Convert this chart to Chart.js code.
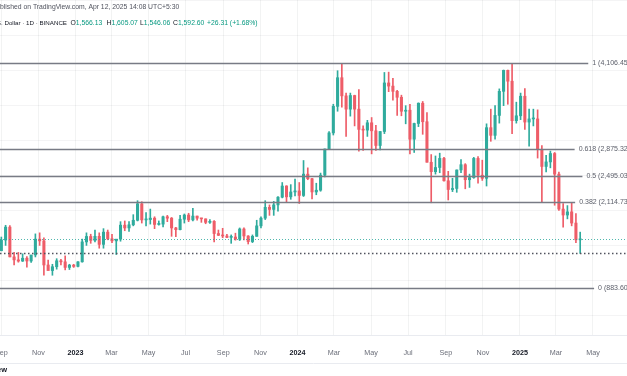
<!DOCTYPE html>
<html>
<head>
<meta charset="utf-8">
<script src="https://cdn.jsdelivr.net/npm/chart.js@4.4.1/dist/chart.umd.min.js"></script>
<style>
  html, body { margin: 0; padding: 0; background: #fff; }
  #wrap { width: 627px; height: 376px; position: relative; }
</style>
</head>
<body>
<div id="wrap"><canvas id="myChart"></canvas></div>
<script>
// weekly candles, first week = Mon 29 Aug 2022 (day -125 counted from 1 Jan 2023)
const firstWeekDay = -125;

const opens = [
  1424,1577,1762,1336,1293,1276,1317,1277,1364,1590,1565,1220,1140,1195,1280,1265,1185,1218,
  1200,1265,1550,1628,1572,1630,1515,1690,1595,1565,1590,1790,1750,1795,1860,2095,1865,1870,1890,1800,1805,1910,1890,1750,1725,1875,1935,1865,1920,1890,1880,1830,1845,1670,1645,1635,1615,1620,1590,1735,1635,1555,1630,1780,1890,2045,2015,2080,2190,2350,2195,2265,
  2280,2215,2520,2455,2265,2290,2505,2880,3110,3490,3900,3640,3450,3645,3450,3160,3150,3255,3140,2930,3130,3825,3780,3705,3620,3420,3435,3020,3245,3535,3270,2690,2555,2615,2745,2425,2300,2315,2580,2655,2440,2470,2745,2505,2460,3185,3075,3360,3705,4005,3850,3285,3355,
  3635,3265,3310,3310,2870,2630,2695,2815,2520,2020,1935,1980,1820,1580
];
const highs = [
  1620,1788,1785,1400,1400,1380,1340,1340,1665,1680,1610,1290,1230,1310,1300,1350,1230,1230,
  1270,1590,1680,1660,1718,1680,1740,1720,1660,1580,1840,1850,1840,1940,2140,2125,1970,2020,1910,1850,1920,1930,1900,1760,1930,1950,1960,2030,1920,1890,1880,1870,1855,1720,1745,1660,1650,1675,1750,1750,1640,1650,1860,1910,2140,2080,2130,2200,2400,2355,2370,2450,
  2400,2715,2610,2460,2390,2535,2880,3130,3520,4000,4093,3680,3680,3650,3730,3210,3290,3330,3220,3130,3975,3980,3890,3720,3650,3500,3520,3250,3540,3560,3400,2800,2780,2820,2760,2560,2460,2580,2730,2670,2520,2760,2770,2720,3240,3450,3500,3740,4010,4010,4106,3550,3680,
  3745,3450,3450,3440,2930,2790,2850,2830,2550,2100,2070,2105,1955,1690
];
const lows = [
  1422,1500,1335,1220,1260,1270,1190,1255,1335,1500,1073,1150,1073,1160,1220,1150,1155,1185,
  1192,1260,1500,1530,1550,1460,1460,1580,1540,1370,1560,1710,1700,1780,1850,1820,1780,1805,1740,1790,1765,1840,1630,1625,1720,1820,1840,1850,1860,1830,1810,1815,1550,1640,1610,1610,1530,1575,1570,1580,1520,1540,1630,1750,1870,1930,1930,1990,2180,2120,2160,2210,
  2100,2200,2440,2165,2225,2275,2480,2870,3080,3420,3480,3060,3350,3210,2850,2860,3060,2810,2860,2865,3100,3700,3580,3360,3355,3240,2810,2830,3200,3090,2690,2110,2520,2540,2420,2150,2270,2260,2540,2310,2330,2460,2390,2430,2350,2990,3020,3250,3500,3520,3100,3250,3300,
  3160,2920,3210,2750,2120,2550,2610,2075,2000,1760,1880,1780,1540,1385
];
const closes = [
  1577,1762,1336,1293,1276,1317,1277,1364,1590,1565,1220,1140,1195,1280,1265,1185,1218,1200,
  1265,1550,1628,1572,1630,1515,1690,1595,1565,1590,1790,1750,1795,1860,2095,1865,1870,1890,1800,1805,1910,1890,1750,1725,1875,1935,1865,1920,1890,1880,1830,1845,1670,1645,1635,1615,1620,1590,1735,1635,1555,1630,1780,1890,2045,2015,2080,2190,2350,2195,2265,2280,
  2215,2520,2455,2265,2290,2505,2880,3110,3490,3900,3640,3450,3645,3450,3160,3150,3255,3140,2930,3130,3825,3780,3705,3620,3420,3435,3020,3245,3535,3270,2690,2555,2615,2745,2425,2300,2315,2580,2655,2440,2470,2745,2505,2460,3185,3075,3360,3705,4005,3850,3285,3355,3635,
  3265,3310,3310,2870,2630,2695,2815,2520,2020,1935,1980,1820,1580,1592.6
];

// time axis: days from 1 Jan 2023
const tickDays = [-122, -61, 0, 59, 120, 181, 243, 304, 365, 425, 486, 547, 609, 670, 731, 790, 851];
const tickLabels = ['Sep','Nov','2023','Mar','May','Jul','Sep','Nov','2024','Mar','May','Jul','Sep','Nov','2025','Mar','May'];

// fibonacci retracement
const fibLevels = [1, 0.618, 0.5, 0.382, 0];
const fibPrices = [4106.45, 2875.32, 2495.03, 2114.73, 883.60];

// header (last daily candle) + horizontal lines
const headerOHLC = [1566.13, 1605.07, 1546.06, 1592.60];
const headerChange = '+26.31 (+1.68%)';
const lastPrice = 1592.60;
const supportPrice = 1395;

const UP = '#2fab9d';
const DOWN = '#ee5d68';
const FONT = '"Liberation Sans", Arial, sans-serif';

const wicks = [];
const bodies = [];
const colors = [];
opens.forEach((o, i) => {
  const x = firstWeekDay + i * 7 + 3;
  wicks.push({ x: x, y: [lows[i], highs[i]] });
  bodies.push({ x: x, y: [o, closes[i]] });
  colors.push(closes[i] >= o ? UP : DOWN);
});

function fmt(v) {
  return v.toLocaleString('en-US', { minimumFractionDigits: 2, maximumFractionDigits: 2 });
}

const overlay = {
  id: 'overlay',
  afterDatasetsDraw(chart) {
    const ctx = chart.ctx;
    const ys = chart.scales.y;
    const W = chart.width;
    ctx.save();

    // current price (teal dotted)
    let py = Math.round(ys.getPixelForValue(lastPrice)) + 0.5;
    ctx.strokeStyle = 'rgba(38,166,154,0.8)';
    ctx.lineWidth = 1;
    ctx.setLineDash([1, 2]);
    ctx.beginPath(); ctx.moveTo(0, py); ctx.lineTo(W, py); ctx.stroke();

    // support line (dark dotted)
    py = Math.round(ys.getPixelForValue(supportPrice)) + 0.5;
    ctx.strokeStyle = '#50535e';
    ctx.lineWidth = 1.5;
    ctx.setLineDash([1.5, 2.5]);
    ctx.beginPath(); ctx.moveTo(0, py); ctx.lineTo(W, py); ctx.stroke();
    ctx.setLineDash([]);

    // fib levels
    ctx.font = '7px ' + FONT;
    ctx.textBaseline = 'middle';
    ctx.textAlign = 'left';
    fibLevels.forEach((lv, i) => {
      const y = Math.round(ys.getPixelForValue(fibPrices[i])) + 0.5;
      const label = lv + ' (' + fmt(fibPrices[i]) + ')';
      const w = ctx.measureText(label).width;
      const start = 630 - w;
      ctx.strokeStyle = '#787b85';
      ctx.lineWidth = 1.3;
      ctx.beginPath(); ctx.moveTo(0, y); ctx.lineTo(start - 4, y); ctx.stroke();
      ctx.fillStyle = '#5d606b';
      ctx.fillText(label, start, y);
    });
    ctx.restore();
  },
  afterDraw(chart) {
    const ctx = chart.ctx;
    ctx.save();
    ctx.textBaseline = 'middle';
    ctx.textAlign = 'left';

    // line 1
    ctx.font = '6.8px ' + FONT;
    ctx.fillStyle = '#50535e';
    let t = 'Published on TradingView.com, Apr 12, 2025 14:08 UTC+5:30';
    ctx.fillText(t, -ctx.measureText('Pu').width, 7.5);

    // line 2
    ctx.font = '6.2px ' + FONT;
    ctx.fillStyle = '#131722';
    t = 'Ethereum / U.S. Dollar · 1D · BINANCE';
    ctx.textAlign = 'right';
    ctx.fillText(t, 67, 23);
    ctx.textAlign = 'left';
    ctx.font = '6.8px ' + FONT;
    const keys = ['O', 'H', 'L', 'C'];
    const xs = [70.5, 106.5, 140, 173];
    keys.forEach((k, i) => {
      ctx.fillStyle = '#131722';
      ctx.fillText(k, xs[i], 23);
      const kw = ctx.measureText(k).width;
      ctx.fillStyle = '#089981';
      ctx.fillText(fmt(headerOHLC[i]), xs[i] + kw, 23);
    });
    ctx.fillStyle = '#089981';
    ctx.fillText(headerChange, 207, 23);

    // bottom strip
    ctx.strokeStyle = '#e9ebf0';
    ctx.lineWidth = 1;
    ctx.beginPath(); ctx.moveTo(0, 363.5); ctx.lineTo(chart.width, 363.5); ctx.stroke();
    ctx.font = 'bold 7.5px ' + FONT;
    ctx.fillStyle = '#131722';
    ctx.textAlign = 'right';
    ctx.fillText('TradingView', 7, 369.5);
    ctx.restore();
  }
};

const ctx = document.getElementById('myChart').getContext('2d');
const myChart = new Chart(ctx, {
  type: 'bar',
  data: {
    datasets: [
      {
        label: 'wick',
        data: wicks,
        backgroundColor: colors,
        barThickness: 1,
        grouped: false,
        order: 2
      },
      {
        label: 'body',
        data: bodies,
        backgroundColor: colors,
        barThickness: 2.4,
        minBarLength: 1,
        grouped: false,
        order: 1
      }
    ]
  },
  options: {
    responsive: true,
    maintainAspectRatio: false,
    animation: false,
    layout: { padding: 0 },
    plugins: { legend: { display: false }, tooltip: { enabled: false } },
    scales: {
      x: {
        type: 'linear',
        offset: false,
        min: -124.2,
        max: 907,
        afterBuildTicks: s => { s.ticks = tickDays.map(v => ({ value: v })); },
        afterFit: s => { s.height = 41; s.paddingLeft = 0; s.paddingRight = 0; },
        grid: { color: 'rgba(42,46,57,0.06)', drawTicks: false, offset: false },
        border: { color: '#e9ebf0' },
        ticks: {
          autoSkip: false,
          maxRotation: 0,
          padding: 14,
          callback: (v, i) => tickLabels[i],
          color: c => /^\d{4}$/.test(tickLabels[c.index]) ? '#131722' : '#6a6d78',
          font: c => ({
            family: FONT,
            size: 7.2,
            weight: /^\d{4}$/.test(tickLabels[c.index]) ? 'bold' : 'normal'
          })
        }
      },
      y: {
        min: 218,
        max: 5012,
        afterBuildTicks: s => {
          const t = [];
          for (let v = 500; v <= 5000; v += 500) t.push({ value: v });
          s.ticks = t;
        },
        afterFit: s => { s.width = 0; },
        grid: { color: 'rgba(42,46,57,0.05)', drawTicks: false },
        border: { display: false },
        ticks: { display: false }
      }
    }
  },
  plugins: [overlay]
});
</script>
</body>
</html>
